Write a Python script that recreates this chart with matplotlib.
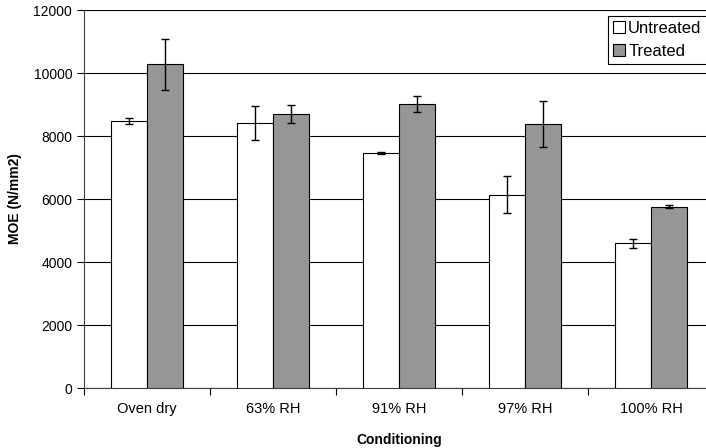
import matplotlib.pyplot as plt
import numpy as np

# Data
conditions = ["Oven dry", "63% RH", "91% RH", "97% RH", "100% RH"]
untreated = [8480, 8400, 7460, 6140, 4590]
untreated_err = [85, 540, 30, 590, 150]
treated = [10270, 8700, 9020, 8380, 5760]
treated_err = [800, 275, 260, 720, 50]

plt.rcParams["font.family"] = ["Liberation Sans", "DejaVu Sans"]

fig = plt.figure(figsize=(7.06, 4.48), dpi=100)
ax = fig.add_axes([84 / 706, 60 / 448, 630 / 706, 378 / 448])

x = np.arange(len(conditions))
w = 1 / 3.5  # Excel style gap width 150%

err_style = dict(ecolor="black", elinewidth=1, capsize=3, capthick=1)
ax.bar(x - w / 2, untreated, w, yerr=untreated_err, color="white",
       edgecolor="black", linewidth=0.8, label="Untreated", error_kw=err_style, zorder=3)
ax.bar(x + w / 2, treated, w, yerr=treated_err, color="#969696",
       edgecolor="black", linewidth=0.8, label="Treated", error_kw=err_style, zorder=3)

ax.set_xlim(-0.5, len(conditions) - 0.5)
ax.set_ylim(0, 12000)
ax.set_yticks(range(0, 12001, 2000))
ax.yaxis.grid(True, color="black", linewidth=0.8)
ax.set_axisbelow(True)

# labels at centres, tick marks at category boundaries
ax.set_xticks(x)
ax.set_xticklabels(conditions, fontsize=10.5)
ax.tick_params(axis="x", which="major", length=0, pad=10)
ax.set_xticks(np.arange(-0.5, len(conditions)), minor=True)
ax.tick_params(axis="x", which="minor", length=5, width=0.8, direction="out")
ax.tick_params(axis="y", labelsize=10, length=5, width=0.8, direction="out")

for side in ["top", "right"]:
    ax.spines[side].set_visible(False)
ax.spines["left"].set_color("#404040")
ax.spines["bottom"].set_color("#404040")

ax.set_xlabel("Conditioning", fontsize=10, fontweight="bold", labelpad=12)
ax.set_ylabel("MOE (N/mm2)", fontsize=10, fontweight="bold", labelpad=8)

leg = ax.legend(loc="upper left", bbox_to_anchor=(0.832, 0.984), borderaxespad=0,
                fontsize=12, fancybox=False, edgecolor="black", framealpha=1,
                handlelength=0.7, handleheight=0.7, handletextpad=0.2,
                labelspacing=0.45, borderpad=0.3)
leg.get_frame().set_linewidth(0.8)

plt.savefig("out.png", dpi=100)
